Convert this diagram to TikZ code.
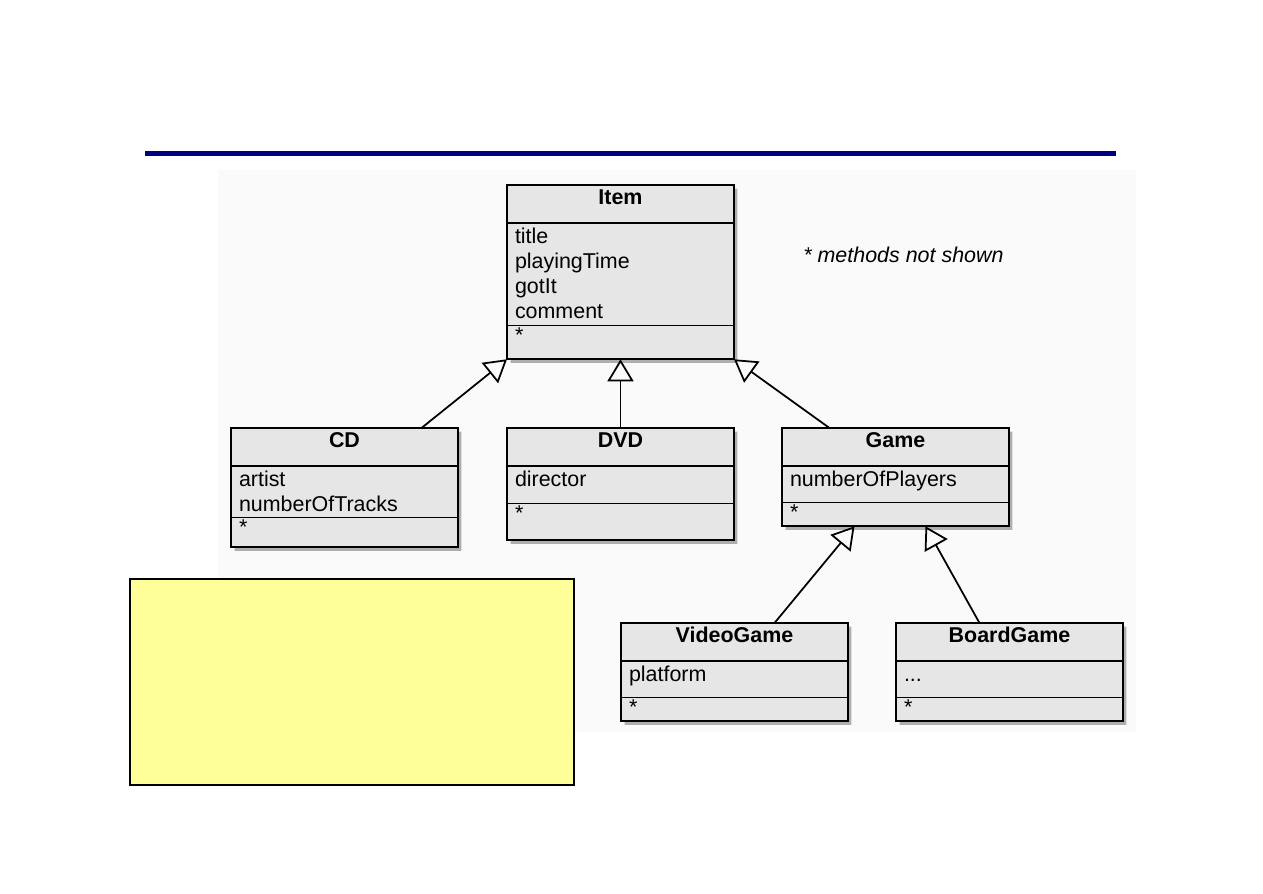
\documentclass[tikz,border=0pt]{standalone}
\usepackage{fontspec}
\setmainfont{Liberation Sans}
\usetikzlibrary{shapes.multipart, shadows, arrows.meta, calc}

\definecolor{umlgray}{HTML}{E6E6E6}
\definecolor{notefill}{HTML}{FFFF99}
\definecolor{panelgray}{HTML}{FAFAFA}
\definecolor{rulenavy}{HTML}{000080}

\newlength{\upx}
\setlength{\upx}{0.02cm}
% strut: total height, depth (in px)
\newcommand{\sth}[2]{\rule[-#2\upx]{0pt}{#1\upx}}
% centred class name
\newcommand{\cname}[1]{\makebox[\linewidth]{\sth{36}{17}\bfseries #1}}

\begin{document}
\begin{tikzpicture}[
    x=0.02cm, y=-0.02cm,
    umlclass/.style={rectangle split, rectangle split parts=3, draw, line width=1pt, fill=umlgray,
      text width=4.22cm, inner xsep=0.16cm, inner ysep=0pt, outer sep=0pt, align=left,
      font=\fontsize{12.2}{14.23}\selectfont, anchor=north west,
      drop shadow={shadow xshift=0.07cm, shadow yshift=-0.07cm, fill=black, opacity=0.3}},
    inherit/.style={-{Triangle[open, length=0.44cm, width=0.52cm]}, line width=1pt},
]
\path[use as bounding box, fill=white] (0,0) rectangle (1263,893);

% title rule and diagram panel
\draw[rulenavy, line width=0.1cm] (145,153) -- (1116,153);
\fill[panelgray] (218,170) rectangle (1136,732);

\node[umlclass] (item) at (507,185) {\cname{Item}
  \nodepart{two}\sth{20}{0}title\\playingTime\\gotIt\\comment\sth{6}{6}
  \nodepart{three}\sth{32}{16}*};
\node[umlclass] (cd) at (231,428) {\cname{CD}
  \nodepart{two}\sth{20}{0}artist\\numberOfTracks\sth{5}{5}
  \nodepart{three}\sth{28}{12}*};
\node[umlclass] (dvd) at (507,428) {\cname{DVD}
  \nodepart{two}\sth{36}{16}director
  \nodepart{three}\sth{35}{19}*};
\node[umlclass] (game) at (782,428) {\cname{Game}
  \nodepart{two}\sth{35}{15}numberOfPlayers
  \nodepart{three}\sth{22}{6}*};
\node[umlclass] (vg) at (621,623) {\cname{VideoGame}
  \nodepart{two}\sth{35}{15}platform
  \nodepart{three}\sth{22}{6}*};
\node[umlclass] (bg) at (896,623) {\cname{BoardGame}
  \nodepart{two}\sth{35}{15}...
  \nodepart{three}\sth{22}{6}*};

\node[font=\fontsize{12.2}{14.23}\selectfont\itshape, anchor=base west, inner sep=0pt] (note) at (803,262) {* methods not shown};

% generalisations
\draw[inherit] ($(cd.north)+(77,0)$) -- (item.south west);
\draw[inherit] (dvd.north) -- (item.south);
\draw[inherit] ($(game.north)+(-66,0)$) -- (item.south east);
\draw[inherit] ($(vg.north)+(40,0)$) -- ($(game.south)+(-41,0)$);
\draw[inherit] ($(bg.north)+(-30,0)$) -- ($(game.south)+(30,0)$);

% yellow note box
\draw[fill=notefill, line width=1pt] (130,579) rectangle (574,785);
\end{tikzpicture}
\end{document}
